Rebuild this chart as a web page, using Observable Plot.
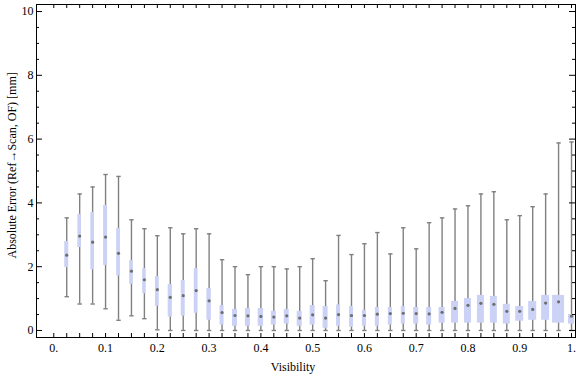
<!DOCTYPE html>
<html>
<head>
<meta charset="utf-8">
<script src="https://cdn.jsdelivr.net/npm/d3@7"></script>
<script src="https://cdn.jsdelivr.net/npm/@observablehq/plot@0.6"></script>
<style>
  html, body { margin: 0; padding: 0; background: #fff; }
  #chart svg { display: block; }
</style>
</head>
<body>
<div id="chart"></div>
<script>
// ---- data ----
const visibility = [0.025,0.05,0.075,0.1,0.125,0.15,0.175,0.2,0.225,0.25,0.275,0.3,0.325,0.35,0.375,0.4,0.425,0.45,0.475,0.5,0.525,0.55,0.575,0.6,0.625,0.65,0.675,0.7,0.725,0.75,0.775,0.8,0.825,0.85,0.875,0.9,0.925,0.95,0.975,1.0];
const whiskerHigh = [3.53,4.28,4.50,4.89,4.83,3.47,3.19,2.97,3.22,3.03,3.19,3.03,2.22,2.00,1.75,2.00,2.00,1.93,2.00,2.25,1.56,2.98,2.38,2.72,3.07,2.40,3.22,2.56,3.38,3.53,3.81,3.91,4.28,4.35,3.47,3.60,3.88,4.28,5.88,5.91];
const upperQuartile = [2.79,3.64,3.70,3.92,3.20,2.19,1.94,1.69,1.44,1.57,1.94,1.32,0.78,0.66,0.69,0.69,0.60,0.66,0.60,0.78,0.75,0.80,0.75,0.63,0.72,0.72,0.75,0.72,0.72,0.72,0.91,1.00,1.10,1.07,0.82,0.75,0.91,1.10,1.10,0.50];
const medianError = [2.36,2.96,2.77,2.93,2.42,1.86,1.59,1.28,1.04,1.09,1.25,0.93,0.56,0.47,0.46,0.44,0.42,0.46,0.39,0.49,0.39,0.50,0.47,0.47,0.51,0.53,0.54,0.53,0.52,0.57,0.69,0.79,0.85,0.82,0.60,0.60,0.66,0.86,0.90,0.45];
const lowerQuartile = [1.97,2.60,1.90,2.04,1.71,1.45,1.15,0.76,0.42,0.45,0.54,0.32,0.17,0.13,0.13,0.13,0.17,0.20,0.13,0.17,0.07,0.13,0.10,0.13,0.13,0.17,0.20,0.20,0.17,0.23,0.23,0.23,0.23,0.23,0.20,0.29,0.32,0.32,0.23,0.20];
const whiskerLow = [1.06,0.83,0.83,0.68,0.32,0.46,0.37,0.02,0,0,0,0,0,0,0,0,0,0,0,0,0,0,0,0,0,0,0,0,0,0,0,0,0,0,0,0,0,0,0,0];
// relative box width (sample weight) per bin
const relativeWidth = [1,0.9,0.9,1,0.9,0.9,0.85,0.95,1.05,1,0.95,1.1,1,1.25,1.25,1.35,1.25,1.25,1.25,1.25,1.25,1,1,1,1,1,1,1.25,1.25,1.5,1.75,1.75,1.75,1.75,1.75,2,2,2,3,1.5];

const xTickValues = [0,0.1,0.2,0.3,0.4,0.5,0.6,0.7,0.8,0.9,1];
const xTickLabels = ["0.","0.1","0.2","0.3","0.4","0.5","0.6","0.7","0.8","0.9","1."];
const yTickValues = [0,2,4,6,8,10];
const yTickLabels = ["0","2","4","6","8","10"];
const xTitle = "Visibility";
const yTitle = "Absolute Error (Ref\u2192Scan, OF) [mm]";

// ---- layout ----
const W = 576, H = 377;
const mL = 36, mR = 1, mT = 4, mB = 40;
const xDomain = [-0.0334, 1.0077];
const yDomain = [-0.22, 10.22];
const plotW = W - mL - mR, plotH = H - mT - mB;
const pxPerX = plotW / (xDomain[1] - xDomain[0]);
const halfBoxPx = 2;

const rows = visibility.map((v, i) => ({
  v, lo: whiskerLow[i], q1: lowerQuartile[i], med: medianError[i],
  q3: upperQuartile[i], hi: whiskerHigh[i], w: relativeWidth[i]
}));
const caps = rows.flatMap(d => [{v: d.v, y: d.lo}, {v: d.v, y: d.hi}]);

const xMinor = d3.range(0, 41).map(i => +(i * 0.025).toFixed(3));
const yMinor = d3.range(0, 21).map(i => i * 0.5).filter(v => v % 2 !== 0);

const capSymbol = { draw(ctx) { ctx.moveTo(-2.2, 0); ctx.lineTo(2.2, 0); } };
const xLabel = new Map(xTickValues.map((v, i) => [v, xTickLabels[i]]));
const yLabel = new Map(yTickValues.map((v, i) => [v, yTickLabels[i]]));

const whiskerColor = "#808080";
const boxColor = "#ccd2f5";

const chart = Plot.plot({
  width: W, height: H,
  marginLeft: mL, marginRight: mR, marginTop: mT, marginBottom: mB,
  style: { fontFamily: "'Liberation Serif', 'Times New Roman', serif", fontSize: "12px", color: "#000", background: "#fff" },
  x: { domain: xDomain, axis: null },
  y: { domain: yDomain, axis: null },
  marks: [
    // whiskers
    Plot.ruleX(rows, { x: "v", y1: "lo", y2: "hi", stroke: whiskerColor, strokeWidth: 1.4 }),
    Plot.dot(caps, { x: "v", y: "y", symbol: capSymbol, stroke: whiskerColor, strokeWidth: 1.4, fill: "none", r: 3 }),
    // boxes
    Plot.rect(rows, {
      x1: d => d.v - d.w * halfBoxPx / pxPerX,
      x2: d => d.v + d.w * halfBoxPx / pxPerX,
      y1: "q1", y2: "q3", fill: boxColor
    }),
    // medians
    Plot.dot(rows, { x: "v", y: "med", r: 1.6, fill: "#6e6e6e", stroke: "none" }),
    // frame
    Plot.frame({ stroke: "#000", strokeWidth: 1 }),
    // x ticks (inward) bottom & top
    Plot.tickX(xMinor, { x: d => d, stroke: "#000", insetTop: plotH - 4 }),
    Plot.tickX(xMinor, { x: d => d, stroke: "#000", insetBottom: plotH - 4 }),
    // y ticks left & right (major and minor)
    Plot.tickY(yTickValues, { y: d => d, stroke: "#000", insetRight: plotW - 6 }),
    Plot.tickY(yMinor, { y: d => d, stroke: "#000", insetRight: plotW - 3 }),
    Plot.tickY(yTickValues, { y: d => d, stroke: "#000", insetLeft: plotW - 6 }),
    Plot.tickY(yMinor, { y: d => d, stroke: "#000", insetLeft: plotW - 3 }),
    // tick labels
    Plot.axisX(xTickValues, { tickSize: 0, tickPadding: 6, tickFormat: d => xLabel.get(d), label: null, fill: "#000" }),
    Plot.axisY(yTickValues, { tickSize: 0, tickPadding: 3, tickFormat: d => yLabel.get(d), label: null, fill: "#000" }),
    // axis titles
    Plot.text([xTitle], { text: d => d, frameAnchor: "bottom", textAnchor: "middle", dx: -13, dy: 33, fill: "#000" }),
    Plot.text([yTitle], { text: d => d, frameAnchor: "left", textAnchor: "middle", rotate: -90, dx: -24.3, dy: -5.6, fill: "#000" })
  ]
});
document.getElementById("chart").appendChild(chart);
</script>
</body>
</html>
